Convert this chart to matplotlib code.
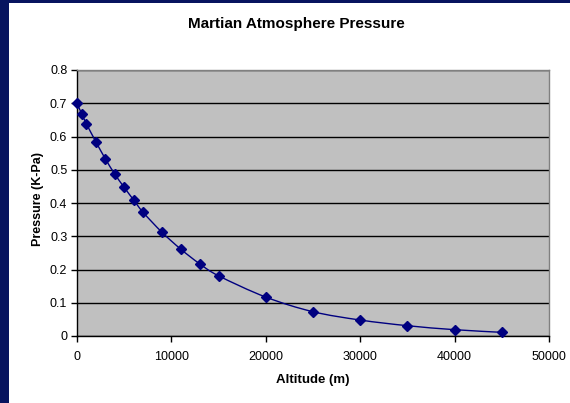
import matplotlib
matplotlib.use("Agg")
import matplotlib.pyplot as plt
from matplotlib.path import Path
from matplotlib.patches import PathPatch, Rectangle
import numpy as np

altitude = [0, 500, 1000, 2000, 3000, 4000, 5000, 6000, 7000, 9000, 11000,
            13000, 15000, 20000, 25000, 30000, 35000, 40000, 45000]
pressure = [0.700, 0.668, 0.638, 0.584, 0.533, 0.487, 0.447, 0.409, 0.372,
            0.312, 0.261, 0.217, 0.181, 0.117, 0.073, 0.048, 0.031, 0.019, 0.011]

x_ticks = [0, 10000, 20000, 30000, 40000, 50000]
y_ticks = [0, 0.1, 0.2, 0.3, 0.4, 0.5, 0.6, 0.7, 0.8]

navy = "#000080"
frame = "#07145f"

plt.rcParams["font.family"] = ["Liberation Sans", "DejaVu Sans"]


def smooth_path(xs, ys, tension=1 / 6):
    # Catmull-Rom style cubic bezier path through the points (like a smoothed line)
    pts = np.column_stack([xs, ys]).astype(float)
    verts = [pts[0]]
    codes = [Path.MOVETO]
    n = len(pts)
    for i in range(n - 1):
        p0 = pts[i - 1] if i > 0 else pts[i]
        p1 = pts[i]
        p2 = pts[i + 1]
        p3 = pts[i + 2] if i + 2 < n else pts[i + 1]
        c1 = p1 + (p2 - p0) * tension
        c2 = p2 - (p3 - p1) * tension
        verts += [c1, c2, p2]
        codes += [Path.CURVE4] * 3
    return Path(verts, codes)


fig = plt.figure(figsize=(5.7, 4.03), dpi=100)
fig.patch.set_facecolor("white")

# dark slide border along the left and top edges
fig.patches.append(Rectangle((0, 0), 9 / 570, 1, transform=fig.transFigure,
                             facecolor=frame, edgecolor="none", zorder=0))
fig.patches.append(Rectangle((0, 1 - 3 / 403), 1, 3 / 403, transform=fig.transFigure,
                             facecolor=frame, edgecolor="none", zorder=0))

ax = fig.add_axes([77 / 570, 1 - 336 / 403, (549 - 77) / 570, (336 - 70) / 403])
ax.set_facecolor("#c0c0c0")
ax.set_xlim(0, 50000)
ax.set_ylim(0, 0.8)
ax.set_xticks(x_ticks)
ax.set_yticks(y_ticks)
ax.set_xticklabels([str(t) for t in x_ticks])
ax.set_yticklabels(["0"] + [f"{t:.1f}" for t in y_ticks[1:]])

ax.yaxis.grid(True, color="black", linewidth=1.0)
ax.set_axisbelow(True)

for side in ("top", "right"):
    ax.spines[side].set_color("#808080")
    ax.spines[side].set_linewidth(1.0)
for side in ("left", "bottom"):
    ax.spines[side].set_color("black")
    ax.spines[side].set_linewidth(1.0)

ax.tick_params(axis="both", direction="out", length=4, width=1, color="black",
               labelsize=9, labelcolor="black", pad=3)
ax.tick_params(axis="x", pad=7)

ax.add_patch(PathPatch(smooth_path(altitude, pressure), facecolor="none",
                       edgecolor=navy, linewidth=1.0, zorder=3))
ax.plot(altitude, pressure, linestyle="none", marker="D", markersize=5.5,
        color=navy, zorder=4, clip_on=False)

ax.set_xlabel("Altitude (m)", fontsize=9.5, fontweight="bold")
ax.set_ylabel("Pressure (K-Pa)", fontsize=9, fontweight="bold")
ax.xaxis.set_label_coords(0.5, -(380 - 336) / 266, transform=ax.transAxes)
ax.xaxis.label.set_va("center")
ax.yaxis.set_label_coords(-(77 - 38) / 472, (336 - 199) / 266, transform=ax.transAxes)
ax.yaxis.label.set_va("center")

fig.text(296 / 570, 1 - 24 / 403, "Martian Atmosphere Pressure", fontsize=11,
         fontweight="bold", ha="center", va="center")

fig.savefig("out.png", dpi=100, facecolor=fig.get_facecolor())
